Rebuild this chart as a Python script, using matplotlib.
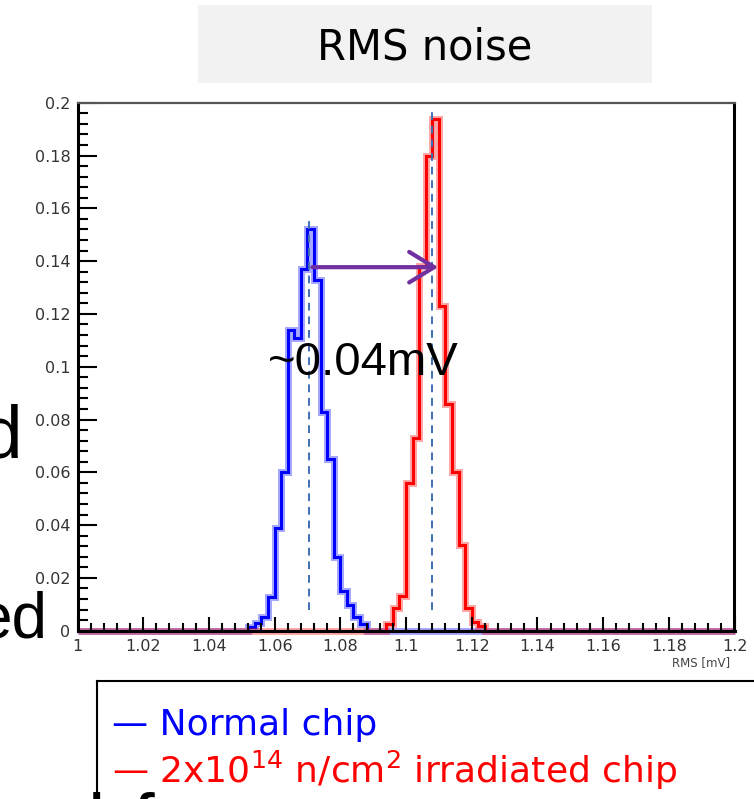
import numpy as np
import matplotlib
matplotlib.use("Agg")
import matplotlib.pyplot as plt
from matplotlib.patches import Rectangle
from matplotlib.lines import Line2D
from matplotlib.ticker import MultipleLocator, FuncFormatter

plt.rcParams['font.family'] = ['DejaVu Sans']
plt.rcParams['mathtext.default'] = 'regular'

# histogram binning (RMS in mV)
x_min, x_max = 1.0, 1.2
bin_width = 0.002

# normal chip, first non-empty bin starts at 1.052
normal_start = 1.052
normal_vals = [0.0015, 0.003, 0.0053, 0.0129, 0.0388, 0.060, 0.114, 0.111, 0.137,
               0.152, 0.133, 0.083, 0.065, 0.028, 0.015, 0.0097, 0.0053, 0.0025]

# irradiated chip, first non-empty bin starts at 1.094
irrad_start = 1.094
irrad_vals = [0.0027, 0.0086, 0.0133, 0.056, 0.073, 0.138, 0.180, 0.1937, 0.123,
              0.0857, 0.060, 0.0326, 0.0086, 0.0033, 0.0017]

normal_mean = 1.0705
irrad_mean = 1.1078
shift_y = 0.1377
shift_text = "~0.04mV"

n_bins = int(round((x_max - x_min) / bin_width))
edges = np.linspace(x_min, x_max, n_bins + 1)


def fill_bins(start, vals):
    h = np.zeros(n_bins)
    i0 = int(round((start - x_min) / bin_width))
    h[i0:i0 + len(vals)] = vals
    return h


h_normal = fill_bins(normal_start, normal_vals)
h_irrad = fill_bins(irrad_start, irrad_vals)

fig = plt.figure(figsize=(7.54, 7.99), dpi=100)
W, H = 754, 799

# title box
fig.add_artist(Rectangle((198 / W, 1 - 83 / H), (652 - 198) / W, 78 / H,
                         transform=fig.transFigure, facecolor='#f2f2f2', edgecolor='none'))
fig.text(425 / W, 1 - 47 / H, "RMS noise", ha='center', va='center', fontsize=30, color='black')

ax = fig.add_axes([77.5 / W, 1 - 630.7 / H, (734.5 - 77.5) / W, (630.7 - 102.7) / H])
ax.set_xlim(x_min, x_max)
ax.set_ylim(0, 0.2)

# histograms: soft halo + solid core
for h, c in [(h_normal, '#0000ff'), (h_irrad, '#ff0000')]:
    ax.stairs(h, edges, color=c, lw=5, alpha=0.35, clip_on=False)
    ax.stairs(h, edges, color=c, lw=2.2, clip_on=False)

ax.vlines(normal_mean, 0.008, 0.157, colors='#3f6fb5', linestyles=(0, (4, 3)), lw=1.4)
ax.vlines(irrad_mean, 0.008, 0.197, colors='#3f6fb5', linestyles=(0, (4, 3)), lw=1.4)

ax.annotate("", xy=(irrad_mean + 0.002, shift_y), xytext=(normal_mean + 0.001, shift_y),
            arrowprops=dict(arrowstyle='->,head_length=0.9,head_width=0.55', color='#7030a0',
                            lw=3, mutation_scale=20, shrinkA=0, shrinkB=0))
ax.text(1.0869, 0.1014, shift_text, ha='center', va='center', fontsize=34,
        family='Liberation Sans', color='black')

# ROOT-like axes
ax.xaxis.set_major_locator(MultipleLocator(0.02))
ax.xaxis.set_minor_locator(MultipleLocator(0.004))
ax.yaxis.set_major_locator(MultipleLocator(0.02))
ax.yaxis.set_minor_locator(MultipleLocator(0.004))
fmt = FuncFormatter(lambda v, p: "%g" % round(v, 4))
ax.xaxis.set_major_formatter(fmt)
ax.yaxis.set_major_formatter(fmt)
ax.tick_params(which='both', direction='in', top=False, right=False, width=1.5,
               colors='black', labelcolor='#333333', labelsize=11.5)
ax.tick_params(axis='y', which='major', length=14, pad=5)
ax.tick_params(axis='y', which='minor', length=7)
ax.tick_params(axis='x', which='major', length=10, pad=6)
ax.tick_params(axis='x', which='minor', length=5.5)
for s in ['left', 'right', 'bottom']:
    ax.spines[s].set_linewidth(2.2)
    ax.spines[s].set_color('black')
ax.spines['top'].set_linewidth(1.6)
ax.spines['top'].set_color('#555555')

fig.text(730 / W, 1 - 663 / H, "RMS [mV]", ha='right', va='center', fontsize=8.5, color='#444444')

# legend box (top and left borders only visible)
fig.add_artist(Line2D([97 / W, 1.0], [1 - 681 / H, 1 - 681 / H], transform=fig.transFigure,
                      color='black', lw=1.5))
fig.add_artist(Line2D([97 / W, 97 / W], [1 - 681 / H, 0], transform=fig.transFigure,
                      color='black', lw=1.5))
fig.text(112 / W, 1 - 735 / H, "— Normal chip", color='#0000ff', fontsize=26, va='baseline')
fig.text(112 / W, 1 - 783 / H, r"— 2x10$^{14}$ n/cm$^{2}$ irradiated chip", color='#ff0000',
         fontsize=26, va='baseline')

# slide text cut off at the edges
fig.text(47 / W, 1 - 638 / H, "ed", ha='right', va='baseline', fontsize=46,
         family='Liberation Sans', color='black')
fig.text(22 / W, 1 - 458 / H, "d", ha='right', va='baseline', fontsize=54,
         family='Liberation Sans', color='black')
fig.text(88 / W, 1 - 849 / H, "l", ha='left', va='baseline', fontsize=56,
         family='Liberation Sans', color='black')
fig.text(133 / W, 1 - 849 / H, "f", ha='left', va='baseline', fontsize=56,
         family='Liberation Sans', color='black')

fig.savefig("out.png", dpi=100)
